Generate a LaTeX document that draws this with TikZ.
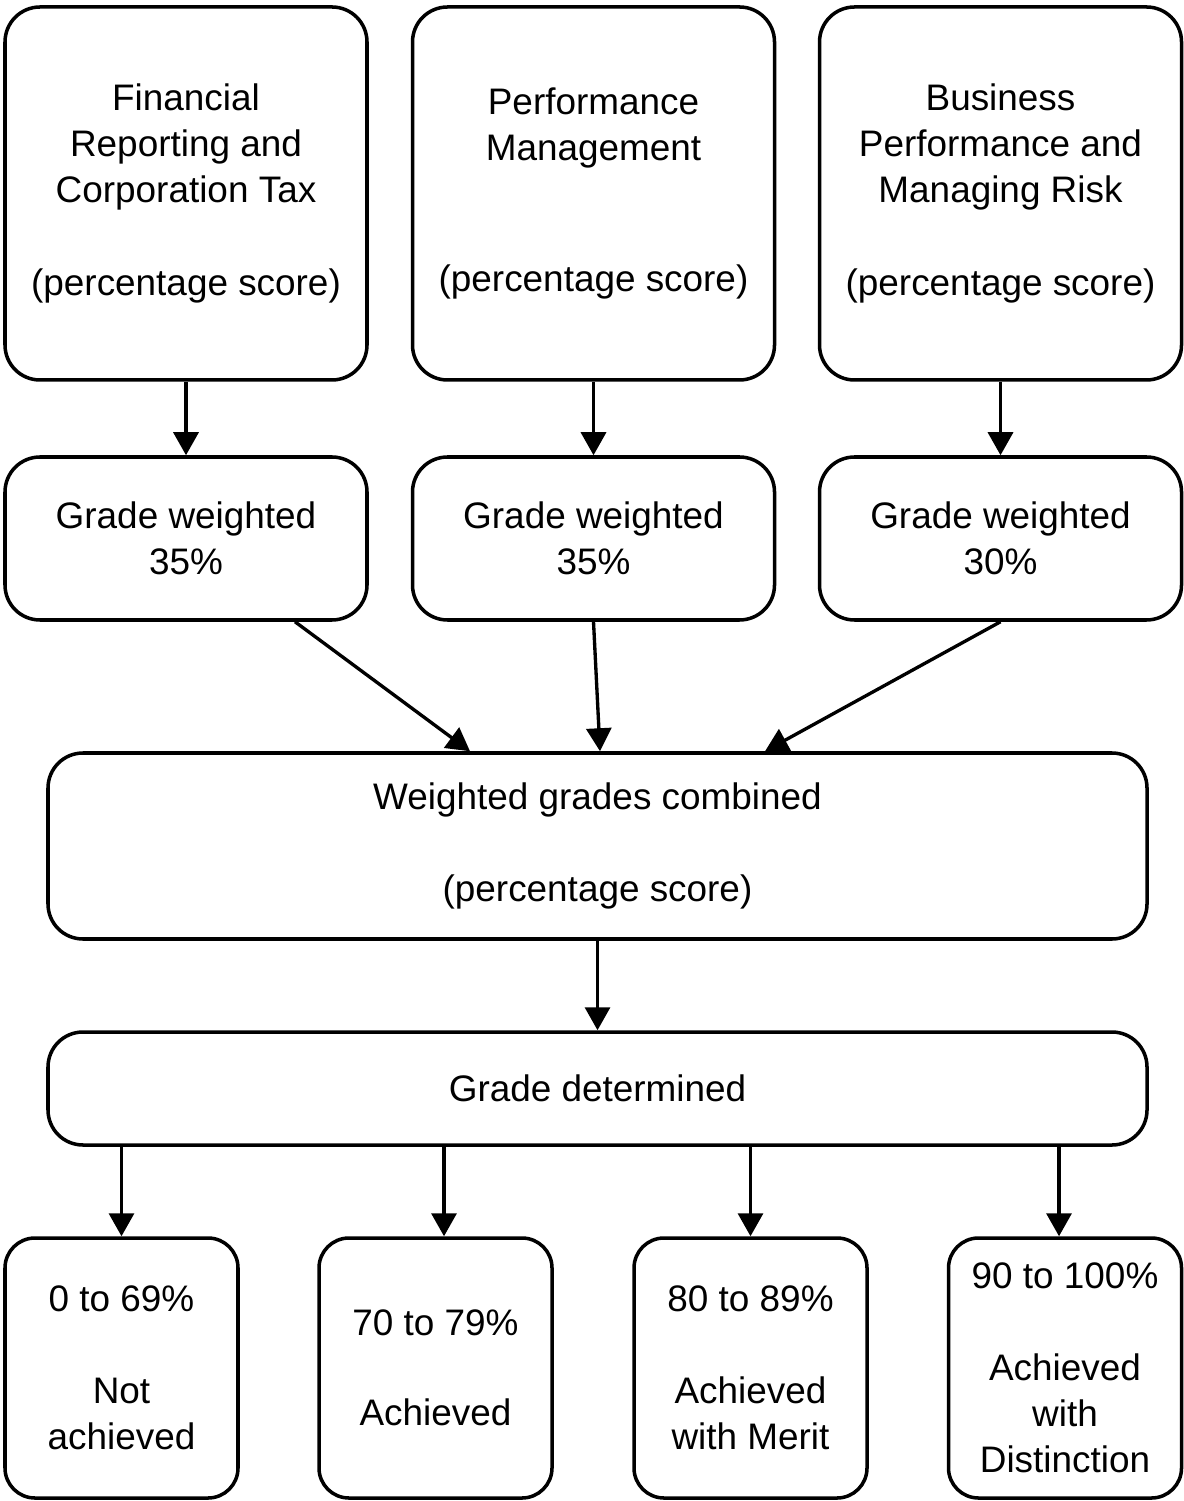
\documentclass[tikz,border=0pt]{standalone}
\usepackage{fontspec}
\setmainfont{Liberation Sans}
\usepackage{tikz}
\usetikzlibrary{arrows.meta}

\tikzset{
  box/.style={draw, line width=1pt, rounded corners=3.5mm, align=center,
              inner sep=0pt, font=\fontsize{10.5}{13.1}\selectfont},
  topbox/.style={box, minimum width=36.2mm, minimum height=37.3mm},
  wbox/.style={box, minimum width=36.2mm, minimum height=16.3mm},
  widebox/.style={box, minimum width=109.9mm},
  bandbox/.style={box, rounded corners=3mm, minimum width=23.3mm, minimum height=26mm},
  arr/.style={line width=0.95pt, -{Triangle[length=2.3mm, width=2.5mm]}}
}

\begin{document}
\begin{tikzpicture}[x=0.1mm, y=-0.1mm]
  \useasboundingbox (0,0) rectangle (1183,1501);
  % top row
  \node[topbox] (frct) at (186,193.5) {Financial\\Reporting and\\Corporation Tax\\[13.4pt](percentage score)};
  \node[topbox] (pm) at (593.5,193.5) {Performance\\Management\\[24pt](percentage score)};
  \node[topbox] (bpmr) at (1000.5,193.5) {Business\\Performance and\\Managing Risk\\[13.4pt](percentage score)};
  % weightings
  \node[wbox] (wfrct) at (186,538.5) {Grade weighted\\35\%};
  \node[wbox] (wpm) at (593.5,538.5) {Grade weighted\\35\%};
  \node[wbox] (wbpmr) at (1000.5,538.5) {Grade weighted\\30\%};
  % combined and grade
  \node[widebox, minimum height=18.6mm] (comb) at (597.5,846) {Weighted grades combined\\[13.1pt](percentage score)};
  \node[widebox, minimum height=11.3mm] (grade) at (597.5,1088.5) {Grade determined};
  % bands
  \node[bandbox] (notach) at (121.5,1368) {0 to 69\%\\[13.1pt]Not\\achieved};
  \node[bandbox] (ach) at (435.5,1368) {70 to 79\%\\[12.5pt]Achieved};
  \node[bandbox] (merit) at (750.5,1368) {80 to 89\%\\[13.1pt]Achieved\\with Merit};
  \node[bandbox] (dist) at (1065,1368) {90 to 100\%\\[13.1pt]Achieved\\with\\Distinction};

  \draw[arr] (frct) -- (wfrct);
  \draw[arr] (pm) -- (wpm);
  \draw[arr] (bpmr) -- (wbpmr);
  \draw[arr] ([xshift=10.9mm]wfrct.south) -- ([xshift=-12.75mm]comb.north);
  \draw[arr] (wpm.south) -- ([xshift=0.25mm]comb.north);
  \draw[arr] (wbpmr.south) -- ([xshift=16.75mm]comb.north);
  \draw[arr] (comb) -- (grade);
  \draw[arr] (grade.south -| notach.north) -- (notach.north);
  \draw[arr] ([xshift=0.85mm]grade.south -| ach.north) -- ([xshift=0.85mm]ach.north);
  \draw[arr] (grade.south -| merit.north) -- (merit.north);
  \draw[arr] ([xshift=-0.6mm]grade.south -| dist.north) -- ([xshift=-0.6mm]dist.north);
\end{tikzpicture}
\end{document}
